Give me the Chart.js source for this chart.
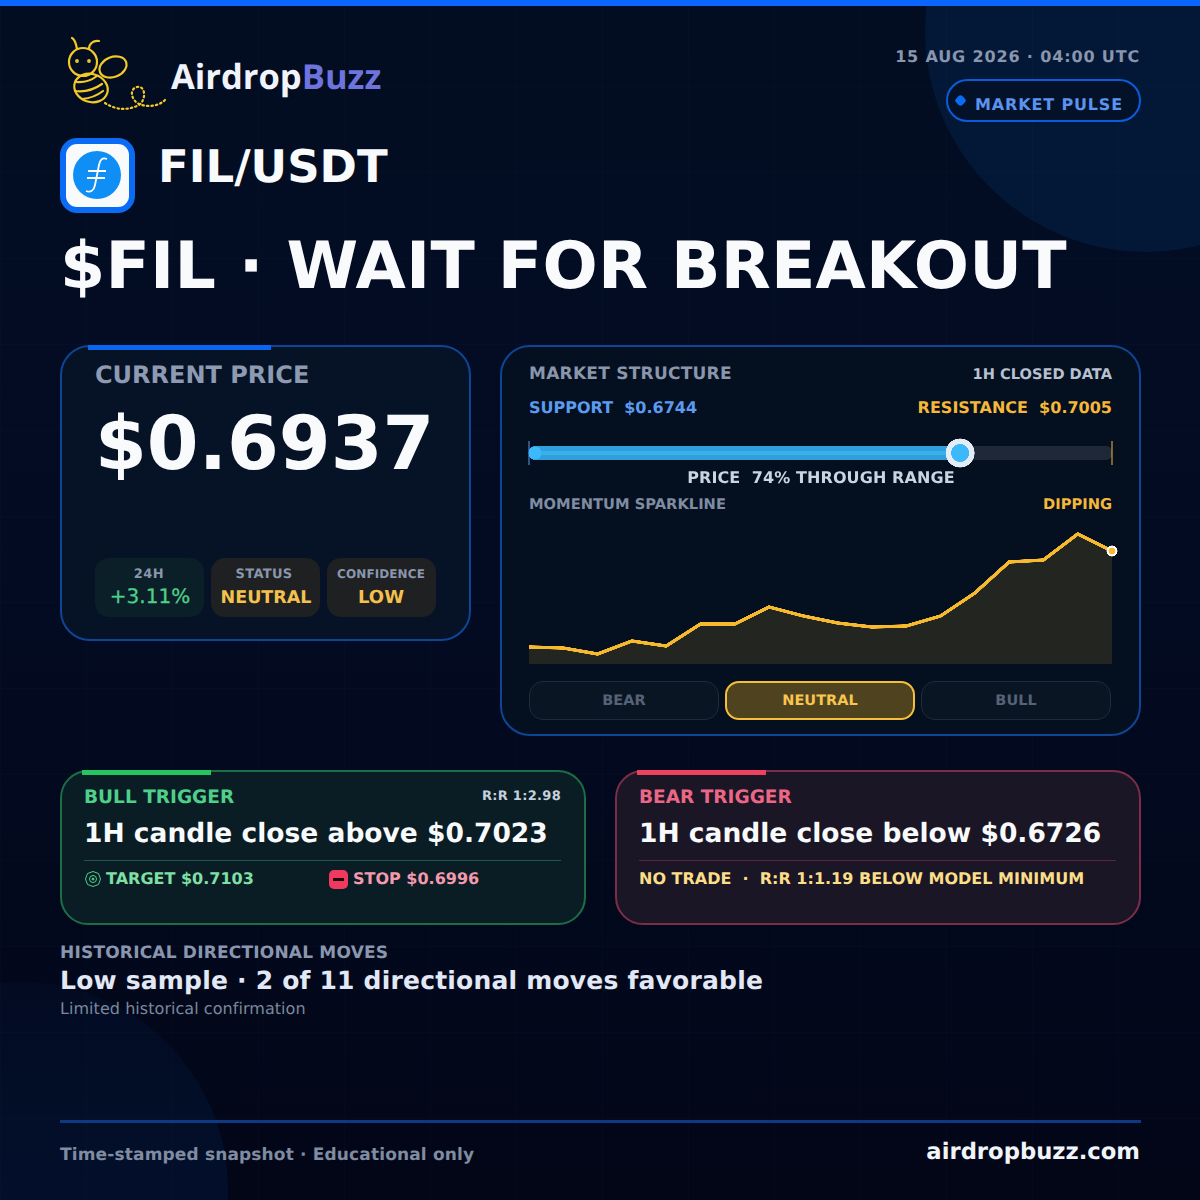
<!DOCTYPE html>
<html>
<head>
<meta charset="utf-8">
<title>FIL/USDT market pulse</title>
<script src="https://cdn.jsdelivr.net/npm/chart.js@4/dist/chart.umd.min.js"></script>
<style>
  html, body { margin: 0; padding: 0; background: #020817; }
  #page { position: relative; width: 1200px; height: 1200px; overflow: hidden; font-family: "DejaVu Sans", sans-serif;
    text-rendering: geometricPrecision;
    background: linear-gradient(180deg, #020d22 0%, #030b22 50%, #020617 100%); }
  #grid { position: absolute; inset: 0;
    background-image: linear-gradient(rgba(120,160,220,.02) 1px, transparent 1px), linear-gradient(90deg, rgba(120,160,220,.02) 1px, transparent 1px);
    background-size: 86px 86px; }
  .blob { position: absolute; border-radius: 50%; background: #021836; }
  .box { position: absolute; box-sizing: border-box; }
  /* --b is the text baseline, --f the font size, both in px */
  .t { position: absolute; white-space: pre; line-height: 1; font-weight: 700;
    top: calc((var(--b) - .846 * var(--f)) * 1px); font-size: calc(var(--f) * 1px); }
  .l { left: calc(var(--x) * 1px); }
  .r { right: calc((1200 - var(--x)) * 1px); }
  .c { left: calc(var(--x) * 1px); transform: translateX(-50%); }
  canvas { position: absolute; }
</style>
</head>
<body>
<div id="page">
  <div class="blob" style="left:925px;top:-190px;width:442px;height:442px"></div>
  <div class="blob" style="left:-188px;top:982px;width:416px;height:416px;background:linear-gradient(180deg, #020b22 0%, #030f2a 45%, #030f2c 100%)"></div>
  <div id="grid"></div>
  <div class="box" style="left:0;top:0;width:1200px;height:6px;background:#0a66ff"></div>

  <!-- logo -->
  <svg class="box" style="left:60px;top:30px" width="120" height="85" viewBox="60 30 120 85" fill="none" stroke="#f2c926" stroke-width="2.200" stroke-linecap="round">
    <path d="M77 49c-1-6-3-10-5-11M89 49c0-5 4-9 10-8"/>
    <circle cx="83" cy="62" r="14"/>
    <circle cx="77" cy="61" r=".8" fill="#f2c926"/><circle cx="89" cy="61" r=".8" fill="#f2c926"/>
    <ellipse cx="113" cy="67" rx="14" ry="10" transform="rotate(-22 113 67)"/>
    <ellipse cx="91" cy="88" rx="17" ry="14" transform="rotate(18 91 88)"/>
    <path d="M76 82q12 1 21-6M75 91q14 2 27-7M82 99q12-1 21-8"/>
    <path d="M105 103c12 8 24 7 34 2c8-6 6-20-2-18c-8 2-6 13 2 17c7 3 19 3 26-4" stroke-dasharray="1.500 3"/>
  </svg>
  <div class="t l" style="--x:171;--b:89;--f:34.500;font-family:'Open Sans';color:#f1f5fb">Airdrop<span style="color:#6f74dd">Buzz</span></div>

  <div class="t r" style="--x:1140;--b:62.500;--f:16;letter-spacing:.85px;color:#8996ad">15 AUG 2026 · 04:00 UTC</div>
  <div class="box" style="left:946px;top:79px;width:195px;height:43px;border:2px solid #0b5cdc;border-radius:22px;background:#041229"></div>
  <div class="box" style="left:956px;top:96px;width:9px;height:9px;background:#0a6cf5;border-radius:3px;transform:rotate(45deg)"></div>
  <div class="t l" style="--x:975;--b:110.500;--f:16;letter-spacing:.85px;color:#5b93ef">MARKET PULSE</div>

  <!-- coin icon -->
  <svg class="box" style="left:60px;top:138px" width="75" height="75" viewBox="0 0 75 75">
    <rect width="75" height="75" rx="17" fill="#0a6cf5"/>
    <rect x="6" y="6" width="63" height="63" rx="11" fill="#f8fafc"/>
    <circle cx="37" cy="37" r="24" fill="#0f8ff5"/>
    <path d="M47 21c-5-2-7 1-8 6l-4 20c-1 5-4 8-9 6M28 33l18 0M27 40l18 0" fill="none" stroke="#fff" stroke-width="1.800"/>
  </svg>
  <div class="t l" style="--x:158;--b:182;--f:45;color:#f8fafc">FIL/USDT</div>
  <div class="t l" style="--x:60;--b:289;--f:65;letter-spacing:.2px;color:#f8fafc">$FIL · WAIT FOR BREAKOUT</div>

  <!-- current price card -->
  <div class="box" style="left:60px;top:345px;width:411px;height:296px;border:2px solid #0f4596;border-radius:30px;background:#061226"></div>
  <div class="box" style="left:88px;top:345px;width:183px;height:5px;background:#0a66f0"></div>
  <div class="t l" style="--x:95;--b:383;--f:24;color:#8d9ab1">CURRENT PRICE</div>
  <div class="t l" style="--x:95;--b:470;--f:74.500;color:#f8fafc">$0.6937</div>
  <div class="box" style="left:95px;top:558px;width:109px;height:59px;border-radius:14px;background:#0a1f28"></div>
  <div class="box" style="left:211px;top:558px;width:109px;height:59px;border-radius:14px;background:#1e2021"></div>
  <div class="box" style="left:327px;top:558px;width:109px;height:59px;border-radius:14px;background:#1e2021"></div>
  <div class="t c" style="--x:149;--b:579;--f:13;letter-spacing:.5px;color:#8996ad">24H</div>
  <div class="t c" style="--x:150;--b:603;--f:20;font-weight:400;-webkit-text-stroke:.3px #4ed088;color:#4ed088">+3.11%</div>
  <div class="t c" style="--x:264;--b:579;--f:13;letter-spacing:.3px;color:#8996ad">STATUS</div>
  <div class="t c" style="--x:266;--b:605;--f:17.500;color:#f5c14e">NEUTRAL</div>
  <div class="t c" style="--x:381;--b:578;--f:12;letter-spacing:.1px;color:#8996ad">CONFIDENCE</div>
  <div class="t c" style="--x:381;--b:604.500;--f:18;color:#f5c14e">LOW</div>

  <!-- market structure card -->
  <div class="box" style="left:500px;top:345px;width:641px;height:391px;border:2px solid #0f4596;border-radius:30px;background:#040f1f"></div>
  <div class="t l" style="--x:529;--b:380;--f:17;letter-spacing:.25px;color:#8996ab">MARKET STRUCTURE</div>
  <div class="t r" style="--x:1112;--b:380;--f:14.600;color:#b7c1d1">1H CLOSED DATA</div>
  <div class="t l" style="--x:529;--b:413.500;--f:16;color:#5b9cf0">SUPPORT  $0.6744</div>
  <div class="t r" style="--x:1112;--b:413.500;--f:16;color:#f5b83a">RESISTANCE  $0.7005</div>
  <canvas id="rangeChart" style="left:509px;top:432px;width:623px;height:42px"></canvas>
  <div class="t c" style="--x:821;--b:483.500;--f:16;letter-spacing:.1px;color:#cbd5e1">PRICE  74% THROUGH RANGE</div>
  <div class="t l" style="--x:529;--b:510;--f:14.700;color:#7f8ca1">MOMENTUM SPARKLINE</div>
  <div class="t r" style="--x:1112;--b:510;--f:14.700;color:#f5b83a">DIPPING</div>
  <canvas id="sparkChart" style="left:509px;top:520px;width:623px;height:144px"></canvas>
  <div class="box" style="left:529px;top:681px;width:190px;height:39px;border:1px solid #1f2a3a;border-radius:14px;background:#0a1524"></div>
  <div class="box" style="left:725px;top:681px;width:190px;height:39px;border:2px solid #f5bf3a;border-radius:14px;background:#4f431f"></div>
  <div class="box" style="left:921px;top:681px;width:190px;height:39px;border:1px solid #1f2a3a;border-radius:14px;background:#0a1524"></div>
  <div class="t c" style="--x:624;--b:706;--f:14.500;color:#566277">BEAR</div>
  <div class="t c" style="--x:820;--b:706;--f:14.500;color:#f7c64f">NEUTRAL</div>
  <div class="t c" style="--x:1016;--b:706;--f:14.500;color:#566277">BULL</div>

  <!-- bull trigger card -->
  <div class="box" style="left:60px;top:770px;width:526px;height:155px;border:2px solid #1c6e46;border-radius:28px;background:#0a1d24"></div>
  <div class="box" style="left:82px;top:770px;width:129px;height:5px;background:#22c55e"></div>
  <div class="t l" style="--x:84;--b:805;--f:18.500;color:#4fd08a">BULL TRIGGER</div>
  <div class="t r" style="--x:561;--b:800.500;--f:13;letter-spacing:.3px;color:#c5d0dc">R:R 1:2.98</div>
  <div class="t l" style="--x:84;--b:843;--f:26.500;color:#f8fafc">1H candle close above $0.7023</div>
  <div class="box" style="left:84px;top:860px;width:477px;height:1px;background:#1d5a4b"></div>
  <svg class="box" style="left:85px;top:871px" width="16" height="16" viewBox="0 0 16 16" fill="none" stroke="#4fd08a">
    <polygon points="8,.5 13.500,2.500 15.500,8 13.500,13.500 8,15.500 2.500,13.500 .5,8 2.500,2.500"/><circle cx="8" cy="8" r="3.500"/><circle cx="8" cy="8" r="1" fill="#4fd08a"/>
  </svg>
  <div class="t l" style="--x:106;--b:884.500;--f:16;color:#7ee0a6">TARGET $0.7103</div>
  <div class="box" style="left:329px;top:870px;width:19px;height:19px;border-radius:5px;background:#f0395f"></div>
  <div class="box" style="left:333px;top:878px;width:11px;height:3px;background:#1a0a10"></div>
  <div class="t l" style="--x:353;--b:884.500;--f:16;color:#f39aae">STOP $0.6996</div>

  <!-- bear trigger card -->
  <div class="box" style="left:615px;top:770px;width:526px;height:155px;border:2px solid #7c2d48;border-radius:28px;background:#1b1626"></div>
  <div class="box" style="left:637px;top:770px;width:129px;height:5px;background:#f0405f"></div>
  <div class="t l" style="--x:639;--b:805;--f:18.500;color:#ec6785">BEAR TRIGGER</div>
  <div class="t l" style="--x:639;--b:843;--f:26.500;color:#f8fafc">1H candle close below $0.6726</div>
  <div class="box" style="left:639px;top:860px;width:477px;height:1px;background:#5a2440"></div>
  <div class="t l" style="--x:639;--b:884.500;--f:16;color:#fbdf88">NO TRADE  ·  R:R 1:1.19 BELOW MODEL MINIMUM</div>

  <!-- history + footer -->
  <div class="t l" style="--x:60;--b:959;--f:17;letter-spacing:.2px;color:#8996ad">HISTORICAL DIRECTIONAL MOVES</div>
  <div class="t l" style="--x:60;--b:989;--f:25;letter-spacing:.2px;color:#e2e8f5">Low sample · 2 of 11 directional moves favorable</div>
  <div class="t l" style="--x:60;--b:1014.500;--f:16;font-weight:400;letter-spacing:.05px;color:#7b889d">Limited historical confirmation</div>
  <div class="box" style="left:60px;top:1120px;width:1081px;height:3px;background:#0e3a84"></div>
  <div class="t l" style="--x:60;--b:1161;--f:17;letter-spacing:.15px;color:#7f8ca1">Time-stamped snapshot · Educational only</div>
  <div class="t r" style="--x:1140;--b:1160;--f:22.700;color:#f1f5f9">airdropbuzz.com</div>
</div>

<script>
// price levels for the range bar
const supportPrice = 0.6744;
const resistancePrice = 0.7005;
const currentPrice = 0.6937;

// sparkline (height above the baseline)
const sparkLabels = ['1', '2', '3', '4', '5', '6', '7', '8', '9', '10', '11', '12', '13', '14', '15', '16', '17', '18'];
const sparkValues = [17, 16, 10, 23, 18, 40, 40, 57, 48, 41, 37, 38, 48, 71, 102, 104, 130, 113];

Chart.defaults.animation = false;
Chart.defaults.responsive = false;
Chart.defaults.devicePixelRatio = 3;

function sizeCanvas(id) {
    const c = document.getElementById(id);
    c.width = parseInt(c.style.width);
    c.height = parseInt(c.style.height);
    return c;
}

// thumb and end ticks of the range bar
const rangeMarks = {
    id: 'rangeMarks',
    afterDatasetsDraw(chart) {
        const { ctx, scales: { x }, chartArea } = chart;
        const y = (chartArea.top + chartArea.bottom) / 2;
        const dot = (cx, r, color) => {
            ctx.beginPath();
            ctx.arc(cx, y, r, 0, Math.PI * 2);
            ctx.fillStyle = color;
            ctx.fill();
        };
        const tick = (cx, color) => {
            ctx.fillStyle = color;
            ctx.fillRect(cx - 0.5, y - 12, 1, 24);
        };
        tick(x.getPixelForValue(supportPrice), '#5b9cf0');
        tick(x.getPixelForValue(resistancePrice), '#f5b83a');
        dot(x.getPixelForValue(supportPrice) + 6, 6.5, '#3db8fa');
        dot(x.getPixelForValue(currentPrice), 14.5, '#e4edf6');
        dot(x.getPixelForValue(currentPrice), 9, '#3db8fa');
    }
};

new Chart(sizeCanvas('rangeChart'), {
    type: 'bar',
    data: {
        labels: ['range'],
        datasets: [
            { data: [[supportPrice, currentPrice]], backgroundColor: '#39b0ee', barThickness: 3, grouped: false },
            { data: [[supportPrice, currentPrice]], backgroundColor: '#2fa0dc', borderRadius: 6, borderSkipped: false, barThickness: 13, grouped: false },
            { data: [[supportPrice, resistancePrice]], backgroundColor: '#1e2838', borderRadius: 6, borderSkipped: false, barThickness: 13, grouped: false }
        ]
    },
    options: {
        indexAxis: 'y',
        layout: { autoPadding: false, padding: { left: 20, right: 20, top: 0, bottom: 0 } },
        plugins: { legend: { display: false }, tooltip: { enabled: false } },
        scales: {
            x: { type: 'linear', min: supportPrice, max: resistancePrice, display: false },
            y: { display: false }
        }
    },
    plugins: [rangeMarks]
});

new Chart(sizeCanvas('sparkChart'), {
    type: 'line',
    data: {
        labels: sparkLabels,
        datasets: [{
            data: sparkValues,
            borderColor: '#f7b92e',
            borderWidth: 3.5,
            backgroundColor: 'rgba(247,185,46,0.13)',
            fill: 'origin',
            tension: 0,
            clip: false,
            pointRadius: sparkValues.map((v, i) => i === sparkValues.length - 1 ? 4.5 : 0),
            pointBackgroundColor: '#f7b92e',
            pointBorderColor: '#ffffff',
            pointBorderWidth: 2
        }]
    },
    options: {
        layout: { autoPadding: false, padding: { left: 20, right: 20, top: 4, bottom: 0 } },
        plugins: { legend: { display: false }, tooltip: { enabled: false } },
        scales: {
            x: { display: false },
            y: { display: false, min: 0, max: 140 }
        }
    }
});
</script>
</body>
</html>
